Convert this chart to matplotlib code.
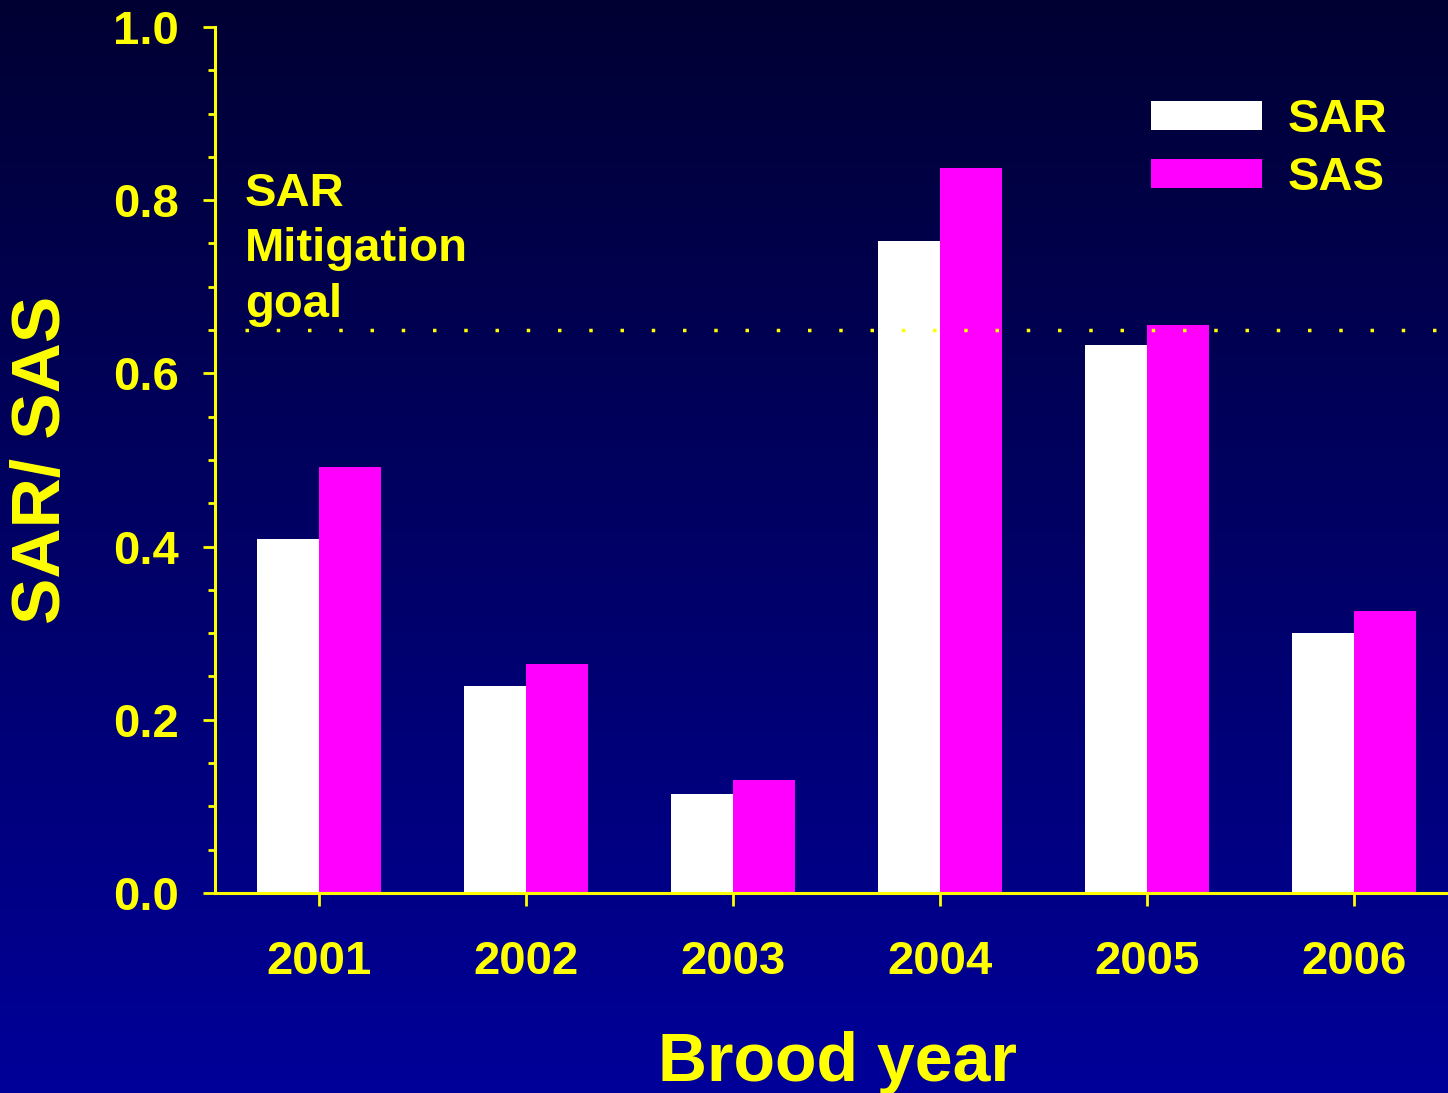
import numpy as np
import matplotlib
matplotlib.use("Agg")
import matplotlib.pyplot as plt
from matplotlib.colors import LinearSegmentedColormap

# data
years = ["2001", "2002", "2003", "2004", "2005", "2006"]
sar = [0.409, 0.239, 0.114, 0.753, 0.633, 0.300]
sas = [0.492, 0.264, 0.130, 0.837, 0.656, 0.326]
goal = 0.65

yellow = "#FFFF00"
magenta = "#FF00FF"

plt.rcParams['font.family'] = ['Liberation Sans', 'DejaVu Sans']
plt.rcParams['font.weight'] = 'bold'

fig = plt.figure(figsize=(14.48, 10.93), dpi=100)

# gradient background
bg = fig.add_axes([0, 0, 1, 1], zorder=-10)
grad = np.linspace(0, 1, 256).reshape(-1, 1)
cmap = LinearSegmentedColormap.from_list("bg", ["#000033", "#000099"])
bg.imshow(grad, aspect="auto", cmap=cmap, extent=[0, 1, 0, 1], origin="upper")
bg.axis("off")

ax = fig.add_axes([0.1485, 0.183, 0.8515, 0.7923])
ax.patch.set_alpha(0)

x = np.arange(len(years))
w = 0.3
ax.bar(x - w / 2, sar, width=w, color="white", label="SAR", zorder=2)
ax.bar(x + w / 2, sas, width=w, color=magenta, label="SAS", zorder=2)

ax.plot([-0.357, 5.5], [goal, goal], color=yellow, lw=2.5,
        linestyle=(0, (1, 8)), zorder=3, solid_capstyle="butt")
ax.text(-0.357, 0.833, "SAR\nMitigation\ngoal", color=yellow, fontsize=34,
        fontweight="bold", va="top", ha="left", linespacing=1.34)

ax.set_xlim(-0.502, 5.454)
ax.set_ylim(0, 1.0)
ax.set_xticks(x)
ax.set_xticklabels(years)
ax.set_yticks(np.arange(0, 1.01, 0.2))
ax.set_yticklabels([f"{v:.1f}" for v in np.arange(0, 1.01, 0.2)])
ax.set_yticks(np.arange(0, 1.001, 0.05), minor=True)

for s in ["top", "right"]:
    ax.spines[s].set_visible(False)
for s in ["left", "bottom"]:
    ax.spines[s].set_color(yellow)
    ax.spines[s].set_linewidth(2.2)

ax.tick_params(axis="y", which="major", colors=yellow, length=9, width=2,
               labelsize=34, pad=17)
ax.tick_params(axis="y", which="minor", colors=yellow, length=5, width=2)
ax.tick_params(axis="x", which="major", colors=yellow, length=9, width=2,
               labelsize=34, pad=25)
for lab in ax.get_xticklabels() + ax.get_yticklabels():
    lab.set_fontweight("bold")

ax.set_ylabel("SAR/ SAS", color=yellow, fontsize=50, fontweight="bold", labelpad=28)
ax.set_xlabel("Brood year", color=yellow, fontsize=49, fontweight="bold")
ax.xaxis.set_label_coords(0.505, -0.1595)
ax.xaxis.label.set_va("top")

leg = ax.legend(loc="upper left", bbox_to_anchor=(1151 / 1448, 1 - 98 / 1093),
                bbox_transform=fig.transFigure, frameon=False, fontsize=34,
                handlelength=2.35, handleheight=0.57, handletextpad=0.55,
                labelspacing=0.3, borderpad=0, borderaxespad=0)
for t in leg.get_texts():
    t.set_color(yellow)
    t.set_fontweight("bold")

fig.savefig("out.png", dpi=100)
